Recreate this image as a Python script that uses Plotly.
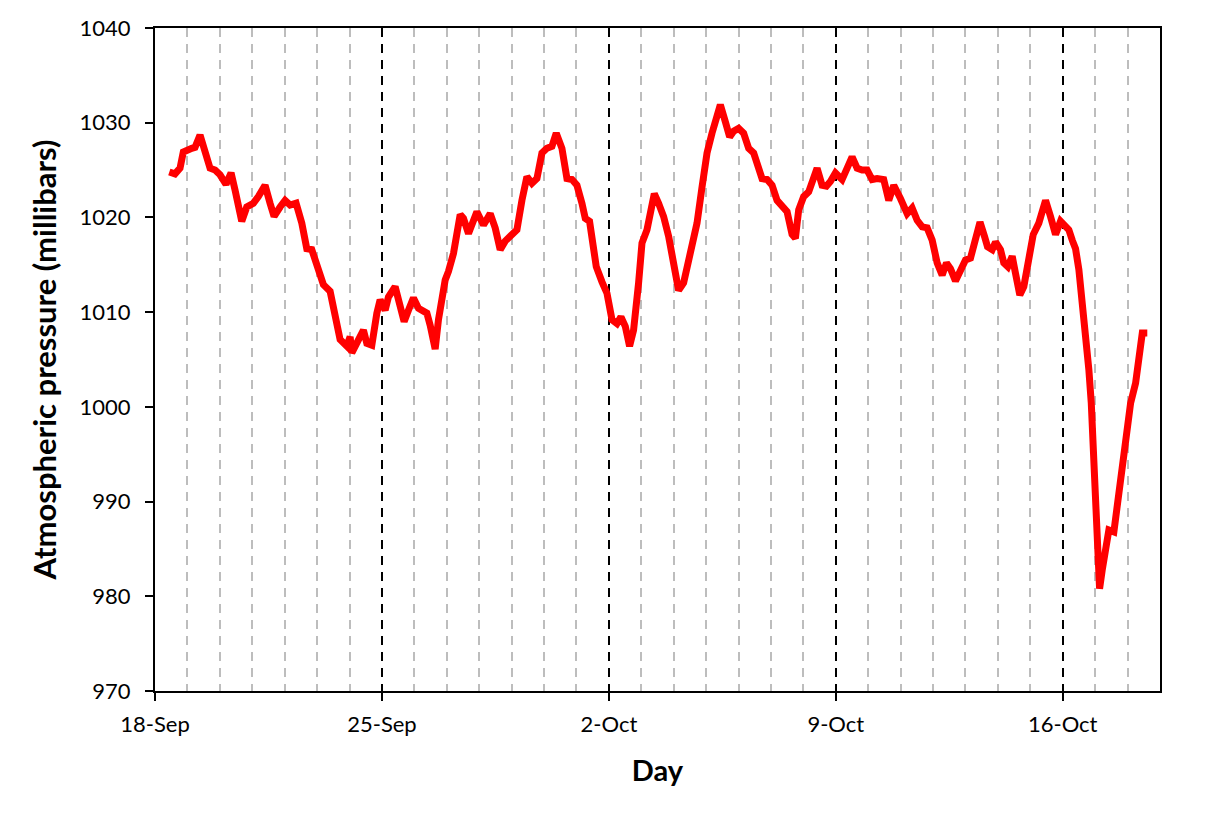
import pandas as pd
import plotly.graph_objects as go

# days after 18-Sep 00:00 and pressure
day_offset = [
    0.441, 0.617, 0.772, 0.873, 1.133, 1.235, 1.389, 1.543, 1.698, 1.852,
    2.006, 2.191, 2.346, 2.469, 2.676, 2.830, 3.034, 3.188, 3.395, 3.549,
    3.673, 3.858, 4.012, 4.167, 4.352, 4.528, 4.682, 4.836, 4.991, 5.194,
    5.401, 5.556, 5.710, 5.917, 6.019, 6.071, 6.173, 6.327, 6.429, 6.534,
    6.688, 6.843, 6.944, 7.099, 7.201, 7.407, 7.562, 7.685, 7.818, 7.972,
    8.127, 8.386, 8.488, 8.642, 8.744, 8.951, 9.052, 9.207, 9.414, 9.515,
    9.670, 9.775, 9.929, 10.133, 10.340, 10.494, 10.648, 10.802, 11.009, 11.164,
    11.318, 11.472, 11.627, 11.781, 11.935, 12.090, 12.244, 12.377, 12.552, 12.707,
    12.861, 13.015, 13.170, 13.272, 13.404, 13.528, 13.611, 13.787, 13.941, 14.096,
    14.250, 14.373, 14.506, 14.639, 14.762, 14.917, 15.022, 15.176, 15.299, 15.401,
    15.534, 15.688, 15.843, 15.997, 16.151, 16.306, 16.460, 16.614, 16.719, 16.873,
    17.028, 17.182, 17.336, 17.438, 17.593, 17.725, 17.849, 18.003, 18.157, 18.312,
    18.466, 18.571, 18.725, 18.880, 19.034, 19.188, 19.343, 19.497, 19.651, 19.753,
    19.855, 20.009, 20.164, 20.318, 20.423, 20.577, 20.710, 20.833, 20.988, 21.194,
    21.349, 21.503, 21.657, 21.812, 21.966, 22.120, 22.275, 22.478, 22.633, 22.787,
    22.994, 23.201, 23.355, 23.509, 23.664, 23.818, 23.972, 24.127, 24.281, 24.414,
    24.537, 24.691, 24.846, 25.000, 25.154, 25.309, 25.448, 25.586, 25.679, 25.824,
    25.926, 26.080, 26.182, 26.306, 26.441, 26.543, 26.676, 26.799, 26.954, 27.090,
    27.262, 27.367, 27.469, 27.623, 27.778, 27.932, 28.086, 28.188, 28.293, 28.395,
    28.497, 28.602, 28.704, 28.806, 28.880, 28.960, 29.034, 29.096, 29.136, 29.219,
    29.321, 29.423, 29.577, 29.682, 29.784, 29.886, 29.991, 30.093, 30.247, 30.349,
    30.454, 30.608,
]
pressure = [
    1024.8, 1024.6, 1025.2, 1026.9, 1027.3, 1027.4, 1028.7, 1026.8, 1025.2, 1025.0,
    1024.5, 1023.5, 1024.7, 1022.9, 1019.6, 1021.1, 1021.5, 1022.2, 1023.4, 1021.5,
    1020.1, 1021.1, 1021.8, 1021.3, 1021.5, 1019.4, 1016.7, 1016.6, 1015.2, 1012.9,
    1012.2, 1009.5, 1007.1, 1006.4, 1007.4, 1005.7, 1006.4, 1007.8, 1008.1, 1006.7,
    1006.5, 1009.9, 1011.3, 1010.2, 1011.6, 1012.7, 1010.9, 1009.0, 1010.2, 1011.5,
    1010.4, 1009.9, 1008.6, 1006.1, 1009.2, 1013.4, 1014.3, 1016.2, 1020.3, 1019.9,
    1018.3, 1019.2, 1020.6, 1019.2, 1020.4, 1018.9, 1016.6, 1017.5, 1018.2, 1018.7,
    1021.8, 1024.3, 1023.6, 1024.1, 1026.8, 1027.3, 1027.5, 1028.9, 1027.3, 1024.1,
    1024.0, 1023.4, 1021.5, 1019.9, 1019.6, 1017.3, 1014.8, 1013.2, 1012.0, 1009.2,
    1008.8, 1009.5, 1008.5, 1006.4, 1008.1, 1013.1, 1017.3, 1018.7, 1020.8, 1022.5,
    1021.5, 1020.1, 1018.0, 1015.5, 1012.3, 1013.1, 1015.5, 1017.6, 1019.4, 1023.2,
    1026.8, 1028.9, 1031.2, 1031.9, 1030.1, 1028.5, 1029.1, 1029.4, 1028.9, 1027.3,
    1026.8, 1025.9, 1024.1, 1024.0, 1023.4, 1021.8, 1021.1, 1020.6, 1018.2, 1017.8,
    1020.8, 1022.2, 1022.7, 1024.0, 1025.2, 1023.4, 1023.3, 1023.8, 1024.7, 1024.0,
    1025.2, 1026.4, 1025.2, 1025.0, 1025.0, 1024.0, 1024.1, 1024.0, 1021.8, 1023.4,
    1022.0, 1020.4, 1021.0, 1019.7, 1019.0, 1018.9, 1017.6, 1015.2, 1013.9, 1015.2,
    1014.6, 1013.3, 1014.4, 1015.5, 1015.7, 1017.6, 1019.5, 1018.0, 1016.9, 1016.6,
    1017.4, 1016.6, 1015.2, 1014.8, 1015.9, 1014.1, 1011.8, 1012.7, 1015.9, 1018.2,
    1019.4, 1020.8, 1021.8, 1020.1, 1018.2, 1019.6, 1018.9, 1018.7, 1017.6, 1016.7,
    1014.5, 1011.3, 1008.1, 1003.9, 1000.4, 995.1, 989.8, 984.5, 980.8, 982.8,
    985.2, 987.0, 986.8, 989.8, 992.6, 995.4, 998.3, 1000.4, 1002.5, 1005.0,
    1007.8, 1007.8,
]

start = pd.Timestamp("2023-09-18")
times = start + pd.to_timedelta(day_offset, unit="D")

DAY_MS = 86400000
font_family = "Lato, Open Sans, sans-serif"

fig = go.Figure(go.Scatter(
    x=times,
    y=pressure,
    mode="lines",
    line=dict(color="#ff0000", width=7),
    hoverinfo="x+y",
))

fig.update_layout(
    width=1222,
    height=817,
    paper_bgcolor="white",
    plot_bgcolor="white",
    showlegend=False,
    margin=dict(l=147, r=70, t=20, b=134, autoexpand=False),
    font=dict(family=font_family, color="black", size=22),
    xaxis=dict(
        type="date",
        range=["2023-09-18", "2023-10-19"],
        tick0="2023-09-18",
        dtick=7 * DAY_MS,
        tickformat="%-d-%b",
        ticks="outside",
        ticklen=8,
        tickwidth=2,
        tickcolor="black",
        ticklabelstandoff=5,
        ticklabeloverflow="allow",
        showline=True,
        linecolor="black",
        linewidth=2,
        mirror=True,
        showgrid=True,
        gridcolor="black",
        gridwidth=1.5,
        griddash="9px,7px",
        minor=dict(
            dtick=DAY_MS,
            showgrid=True,
            gridcolor="#bdbdbd",
            gridwidth=1.5,
            griddash="9px,7px",
        ),
        title=dict(text="<b>Day</b>", font=dict(size=29), standoff=24),
        zeroline=False,
    ),
    yaxis=dict(
        range=[970, 1040],
        dtick=10,
        ticks="outside",
        ticklen=8,
        tickwidth=2,
        tickcolor="black",
        showline=True,
        linecolor="black",
        linewidth=2,
        mirror=True,
        showgrid=False,
        zeroline=False,
        ticklabelstandoff=10,
        ticklabeloverflow="allow",
        title=dict(text="<b>Atmospheric pressure (millibars)</b>",
                   font=dict(size=31), standoff=14),
    ),
)

fig.write_html("out.html")
